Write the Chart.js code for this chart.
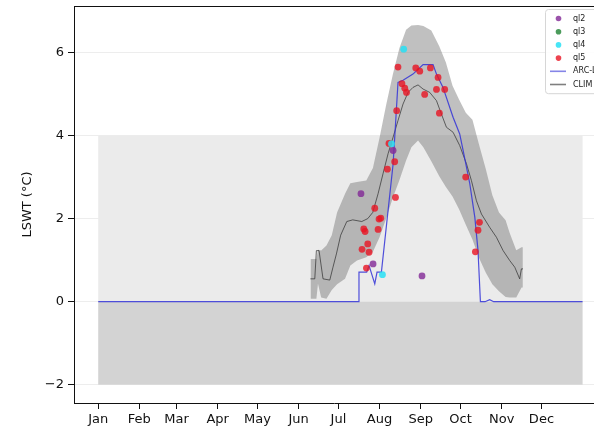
<!DOCTYPE html>
<html>
<head>
<meta charset="utf-8">
<script src="https://cdn.jsdelivr.net/npm/chart.js@4.4.1/dist/chart.umd.min.js"></script>
<style>
  html, body { margin: 0; padding: 0; background: #fff; overflow: hidden; width: 594px; height: 426px; }
  canvas { display: block; }
</style>
</head>
<body>
<canvas id="c" width="594" height="426"></canvas>
<script>
// Day-of-year positions of the month ticks and their labels
const monthDays = [0, 31, 59, 90, 120, 151, 181, 212, 243, 273, 304, 334];
const monthNames = ['Jan', 'Feb', 'Mar', 'Apr', 'May', 'Jun', 'Jul', 'Aug', 'Sep', 'Oct', 'Nov', 'Dec'];
const yTickValues = [-2, 0, 2, 4, 6];

// Shaded temperature ranges spanning the year (day 0 to 365)
const shadeDays = [0, 365];
const shadeLow = [0, -2];
const shadeHigh = [4, 0];

// ARC satellite LSWT (°C)
const arcDays = [0, 196.3, 196.5, 202.3, 204.1, 208.4, 210.1, 213.4, 218.4, 222.2, 224.2, 225.9, 229.7,
  237.2, 244.8, 252.3, 254.9, 259.8, 267.4, 272.4, 275.0, 280.0, 283.8, 286.2, 288.0, 291.5, 295.0, 298.0, 365];
const arcValues = [0, 0, 0.71, 0.71, 0.87, 0.43, 0.71, 0.71, 2.19, 3.31, 4.36, 5.28, 5.33,
  5.48, 5.71, 5.71, 5.48, 5.16, 4.44, 4.04, 3.64, 2.84, 2.03, 1.23, 0, 0, 0.05, 0, 0];

// Climatological mean LSWT (°C)
const climDays = [159.9, 163.2, 164.4, 166.4, 169.4, 174.5, 176.9, 179.5, 182.7, 187.3, 191.8, 198.6, 203.1,
  206.9, 210.9, 214.6, 218.4, 222.2, 225.9, 229.7, 233.5, 237.2, 241.0, 244.8, 249.8, 254.9, 258.6, 262.4,
  267.4, 272.4, 277.5, 281.2, 285.0, 288.8, 295.0, 300.1, 305.1, 310.1, 313.9, 317.6, 318.9, 320.1];
const climMean = [0.55, 0.55, 1.23, 1.23, 0.55, 0.52, 0.83, 1.15, 1.6, 1.93, 1.97, 1.93, 2.0,
  2.15, 2.6, 3.08, 3.56, 3.96, 4.36, 4.76, 5.04, 5.16, 5.22, 5.12, 5.04, 4.84, 4.52, 4.20,
  4.08, 3.76, 3.32, 2.92, 2.43, 2.11, 1.79, 1.55, 1.23, 0.99, 0.83, 0.55, 0.79, 0.79];

// Climatological spread (upper / lower envelope)
const bandDays = [160, 164.4, 165.6, 168, 172, 176, 180, 186, 190, 195, 202, 207, 212, 217, 222, 227, 232, 236,
  241, 245, 251, 257, 262, 267, 272, 277, 282, 287, 292, 297, 302, 307, 310, 315, 319, 320];
const bandUpper = [1.03, 1.03, 1.25, 1.23, 1.35, 1.6, 2.15, 2.6, 2.85, 2.88, 2.92, 3.22, 3.95, 4.74, 5.47, 6.11,
  6.55, 6.65, 6.66, 6.64, 6.53, 6.15, 5.76, 5.2, 4.86, 4.55, 4.38, 3.78, 3.2, 2.56, 2.15, 1.96, 1.66, 1.24, 1.31, 1.31];
const bandLower = [0.07, 0.07, 0.43, 0.1, 0.07, 0.28, 0.42, 0.55, 0.87, 0.99, 1.07, 1.2, 1.55, 2.0, 2.5, 2.93,
  3.4, 3.72, 3.88, 3.72, 3.38, 3.02, 2.76, 2.53, 2.22, 1.85, 1.5, 1.05, 0.7, 0.42, 0.25, 0.11, 0.1, 0.1, 0.34, 0.34];

// In-situ observations by quality level
const ql2Days = [198.0, 222.2, 207.1, 244.0];
const ql2Vals = [2.60, 3.64, 0.91, 0.62];
const ql3Days = [];
const ql3Vals = [];
const ql4Days = [230.2, 221.0, 214.2];
const ql4Vals = [6.08, 3.80, 0.65];
const ql5Days = [225.9, 239.3, 242.3, 250.3, 256.1, 228.9, 231.0, 232.3, 246.0, 254.9, 261.1, 224.9, 257.1,
  219.1, 223.4, 217.9, 276.9, 224.0, 208.4, 212.9, 211.6, 287.3, 200.1, 201.1, 210.9, 286.2, 203.1, 198.8,
  204.1, 284.2, 202.1];
const ql5Vals = [5.65, 5.63, 5.55, 5.63, 5.40, 5.25, 5.14, 5.04, 4.99, 5.11, 5.11, 4.60, 4.54,
  3.81, 3.37, 3.19, 3.00, 2.51, 2.25, 2.01, 1.99, 1.91, 1.75, 1.69, 1.74, 1.72, 1.39, 1.26,
  1.19, 1.20, 0.81];

const xy = (xs, ys) => xs.map((x, i) => ({ x: x, y: ys[i] }));
const FONT = 'DejaVu Sans';

// Grey bands behind the data
const shadePlugin = {
  id: 'shade',
  beforeDatasetsDraw(chart) {
    const { ctx, scales: { x, y }, chartArea } = chart;
    const fills = ['#ebebeb', '#d3d3d3'];
    ctx.save();
    ctx.beginPath();
    ctx.rect(chartArea.left, chartArea.top, chartArea.right - chartArea.left, chartArea.bottom - chartArea.top);
    ctx.clip();
    for (let i = 0; i < shadeLow.length; i++) {
      const x0 = x.getPixelForValue(shadeDays[0]);
      const x1 = x.getPixelForValue(shadeDays[1]);
      const y0 = y.getPixelForValue(shadeHigh[i]);
      const y1 = y.getPixelForValue(shadeLow[i]);
      ctx.fillStyle = fills[i];
      ctx.fillRect(x0, y0, x1 - x0, y1 - y0);
    }
    ctx.restore();
  }
};

// Top frame line
const framePlugin = {
  id: 'frame',
  afterDraw(chart) {
    const { ctx, chartArea: a } = chart;
    ctx.save();
    ctx.strokeStyle = '#111';
    ctx.lineWidth = 1;
    ctx.beginPath();
    ctx.moveTo(a.left, a.top + 0.5);
    ctx.lineTo(a.right, a.top + 0.5);
    ctx.stroke();
    ctx.restore();
  }
};

// Legend box in the upper right corner of the plot
const legendPlugin = {
  id: 'boxLegend',
  afterDraw(chart) {
    const { ctx } = chart;
    const items = chart.data.datasets.filter(d => d.label);
    const bx = 545.5, by = 9.5, bw = 90, rowH = 13.2;
    const bh = items.length * rowH + 5;
    ctx.save();
    ctx.fillStyle = 'rgba(255,255,255,0.85)';
    ctx.strokeStyle = '#d6d6d6';
    ctx.lineWidth = 1;
    ctx.beginPath();
    ctx.roundRect(bx, by, bw, bh, 3);
    ctx.fill();
    ctx.stroke();
    ctx.font = '8px "' + FONT + '"';
    ctx.textBaseline = 'middle';
    items.forEach((d, i) => {
      const cy = by + 9 + i * rowH;
      if (d.showLine === false) {
        ctx.fillStyle = d.backgroundColor;
        ctx.beginPath();
        ctx.arc(558.5, cy, 2.8, 0, Math.PI * 2);
        ctx.fill();
      } else {
        ctx.globalAlpha = 0.7;
        ctx.strokeStyle = d.borderColor;
        ctx.lineWidth = 1.6;
        ctx.beginPath();
        ctx.moveTo(550, cy);
        ctx.lineTo(566, cy);
        ctx.stroke();
        ctx.globalAlpha = 1;
      }
      ctx.fillStyle = '#222';
      ctx.fillText(d.label, 573, cy);
    });
    ctx.restore();
  }
};

const scatterSet = (label, xs, ys, color, order) => ({
  type: 'scatter', label, data: xy(xs, ys), showLine: false,
  backgroundColor: color, borderColor: color, borderWidth: 0,
  pointRadius: 3.4, pointHoverRadius: 3.4, order
});

new Chart(document.getElementById('c'), {
  type: 'scatter',
  data: {
    datasets: [
      scatterSet('ql2', ql2Days, ql2Vals, 'rgba(130,40,150,0.8)', 0),
      scatterSet('ql3', ql3Days, ql3Vals, 'rgba(30,130,50,0.8)', 0),
      scatterSet('ql4', ql4Days, ql4Vals, 'rgba(40,225,245,0.85)', 0),
      scatterSet('ql5', ql5Days, ql5Vals, 'rgba(232,20,35,0.8)', 0),
      { type: 'line', label: 'ARC-Lake', data: xy(arcDays, arcValues), borderColor: 'rgba(50,50,215,0.85)',
        borderWidth: 1.2, pointRadius: 0, tension: 0, fill: false, order: 4 },
      { type: 'line', label: 'CLIM', data: xy(climDays, climMean), borderColor: 'rgba(40,40,40,0.85)',
        borderWidth: 0.8, pointRadius: 0, tension: 0, fill: false, order: 5 },
      { type: 'line', data: xy(bandDays, bandUpper), borderWidth: 0, borderColor: 'rgba(0,0,0,0)',
        backgroundColor: 'rgba(115,115,115,0.45)', pointRadius: 0, tension: 0, fill: '+1', order: 10 },
      { type: 'line', data: xy(bandDays, bandLower), borderWidth: 0, borderColor: 'rgba(0,0,0,0)',
        pointRadius: 0, tension: 0, fill: false, order: 11 }
    ]
  },
  options: {
    responsive: false,
    animation: false,
    devicePixelRatio: 1,
    layout: { padding: { top: 6, right: 0, left: 0, bottom: 0 }, autoPadding: false },
    plugins: { legend: { display: false }, tooltip: { enabled: false } },
    scales: {
      x: {
        // the visible window ends before the right end of the axis
        type: 'linear', min: -18.25, max: 373.6,
        afterBuildTicks: s => { s.ticks = monthDays.map(v => ({ value: v })); },
        afterFit: s => { s.height = 23; s.paddingLeft = 0; s.paddingRight = 0; },
        ticks: {
          autoSkip: false, maxRotation: 0, padding: 3, color: '#111',
          font: { family: FONT, size: 13 },
          callback: v => monthNames[monthDays.indexOf(v)]
        },
        grid: { drawOnChartArea: false, tickLength: 6, tickColor: '#111', tickWidth: 1 },
        border: { color: '#111', width: 1 }
      },
      y: {
        type: 'linear', min: -2.44, max: 7.12,
        afterBuildTicks: s => { s.ticks = yTickValues.map(v => ({ value: v })); },
        afterFit: s => { s.width = 74; s.paddingTop = 0; s.paddingBottom = 0; },
        ticks: {
          padding: 4, color: '#111', font: { family: FONT, size: 13 },
          callback: v => (v < 0 ? '\u2212' + Math.abs(v) : String(v))
        },
        grid: { color: 'rgba(0,0,0,0.09)', lineWidth: 0.8, tickLength: 6, tickColor: '#111', tickWidth: 1 },
        border: { color: '#111', width: 1 },
        title: { display: true, text: 'LSWT (°C)', color: '#111', font: { family: FONT, size: 13 },
          padding: { top: 20, bottom: 0 } }
      }
    }
  },
  plugins: [shadePlugin, framePlugin, legendPlugin]
});
</script>
</body>
</html>
